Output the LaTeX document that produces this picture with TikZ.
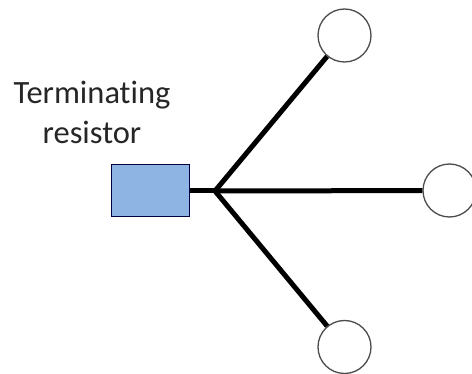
\documentclass[tikz,border=0pt]{standalone}
\usepackage{fontspec}
\setmainfont[Ligatures=NoCommon]{Carlito}
\begin{document}
\begin{tikzpicture}[x=1pt,y=-1pt,
  term/.style={circle,draw=black!70,line width=1.3pt,minimum size=53pt,inner sep=0pt},
  res/.style={draw=black!75!blue,line width=1pt,fill={rgb,255:red,142;green,180;blue,227},minimum width=78pt,minimum height=52pt,inner sep=0pt},
  wire/.style={line width=5pt,black}]
\useasboundingbox (0,0) rectangle (472,374);
\node[res] (r) at (150,191) {};
\coordinate (hub) at (215,191);
\node[term] (t1) at (344.5,35.5) {};
\node[term] (t2) at (449.5,190.5) {};
\node[term] (t3) at (344.5,347) {};
\node[align=center,font=\fontsize{32.5}{40}\selectfont,text=black!85] (lbl) at (92,112) {Terminating\\resistor};
\draw[wire] (r.east) -- (hub);
\draw[wire] (hub) -- (t2);
\draw[wire] (hub) -- (t1);
\draw[wire] (hub) -- (t3);
\end{tikzpicture}
\end{document}
